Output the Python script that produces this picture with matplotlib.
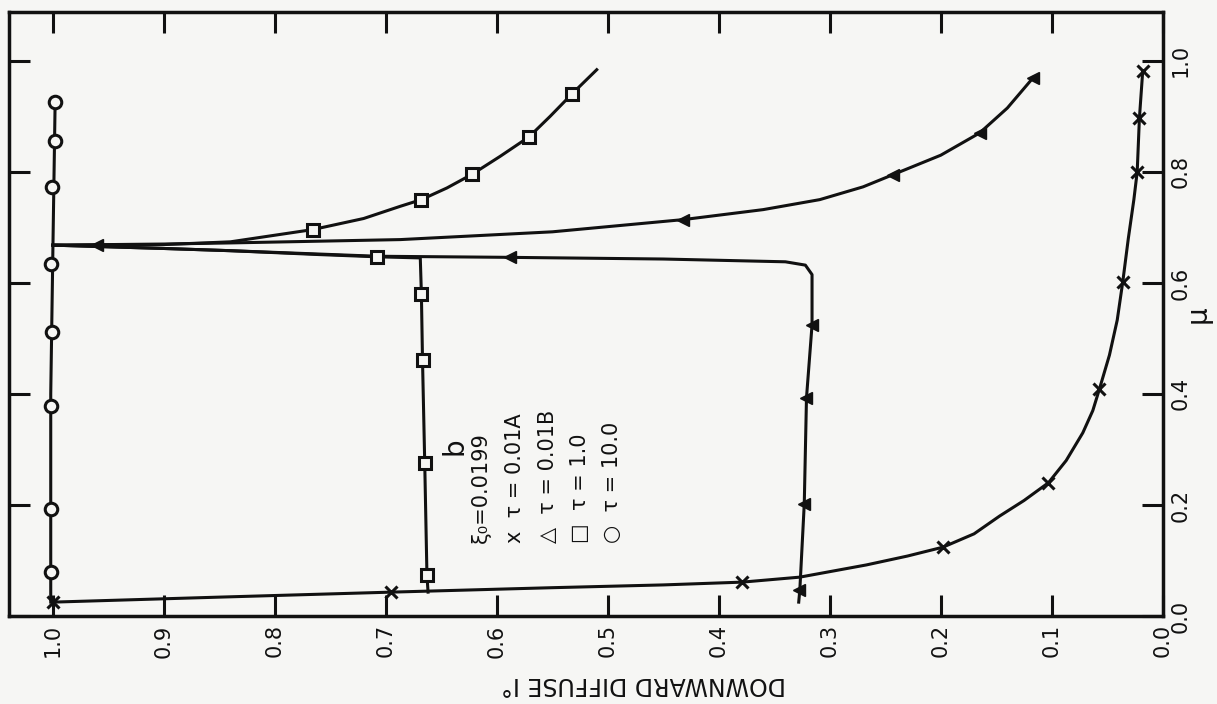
import numpy as np
import matplotlib
matplotlib.use('Agg')
import matplotlib.pyplot as plt

# values read off the (rotated) scanned figure: I = downward diffuse, mu
# x marks, tau = 0.01 A
x_line_I = [1.0, 0.85, 0.695, 0.55, 0.45, 0.379, 0.327, 0.267, 0.230, 0.198, 0.170, 0.147, 0.125,
            0.103, 0.087, 0.072, 0.063, 0.057, 0.048, 0.041, 0.036, 0.031, 0.026, 0.023, 0.021, 0.018]
x_line_mu = [0.025, 0.034, 0.043, 0.051, 0.056, 0.061, 0.070, 0.092, 0.108, 0.124, 0.148, 0.180, 0.208,
             0.240, 0.28, 0.33, 0.37, 0.409, 0.47, 0.533, 0.602, 0.68, 0.75, 0.80, 0.897, 0.982]
x_pts_I = [1.0, 0.695, 0.379, 0.198, 0.103, 0.057, 0.036, 0.023, 0.021, 0.018]
x_pts_mu = [0.025, 0.043, 0.061, 0.124, 0.240, 0.409, 0.602, 0.80, 0.897, 0.982]

# triangles, tau = 0.01 B (two branches)
tri_up_I = [1.0, 0.90, 0.84, 0.687, 0.55, 0.432, 0.36, 0.309, 0.27, 0.243, 0.20, 0.165, 0.14, 0.117]
tri_up_mu = [0.668, 0.670, 0.672, 0.678, 0.692, 0.714, 0.732, 0.750, 0.773, 0.795, 0.830, 0.870, 0.915, 0.969]
tri_low_I = [1.0, 0.90, 0.84, 0.708, 0.588, 0.45, 0.34, 0.322, 0.316, 0.316, 0.321, 0.323, 0.327, 0.328]
tri_low_mu = [0.668, 0.662, 0.658, 0.648, 0.646, 0.643, 0.638, 0.632, 0.615, 0.524, 0.393, 0.202, 0.047, 0.025]
tri_pts_I = [0.96, 0.432, 0.243, 0.165, 0.117, 0.588, 0.316, 0.321, 0.323, 0.328]
tri_pts_mu = [0.668, 0.714, 0.795, 0.870, 0.969, 0.646, 0.524, 0.393, 0.202, 0.047]

# squares, tau = 1.0 (two branches)
sq_up_I = [1.0, 0.90, 0.84, 0.766, 0.72, 0.687, 0.668, 0.645, 0.622, 0.597, 0.571, 0.552, 0.532, 0.51]
sq_up_mu = [0.668, 0.669, 0.674, 0.696, 0.716, 0.738, 0.750, 0.771, 0.796, 0.828, 0.863, 0.900, 0.941, 0.984]
sq_low_I = [1.0, 0.90, 0.84, 0.76, 0.708, 0.669, 0.668, 0.667, 0.665, 0.663, 0.662]
sq_low_mu = [0.668, 0.662, 0.658, 0.651, 0.647, 0.645, 0.580, 0.461, 0.276, 0.074, 0.043]
sq_pts_I = [0.766, 0.668, 0.622, 0.571, 0.532, 0.708, 0.668, 0.667, 0.665, 0.663]
sq_pts_mu = [0.696, 0.750, 0.796, 0.863, 0.941, 0.647, 0.580, 0.461, 0.276, 0.074]

# circles, tau = 10.0
circ_line_I = [1.002, 1.002, 1.0, 0.998]
circ_line_mu = [0.025, 0.40, 0.668, 0.93]
circ_pts_I = [0.998, 0.998, 1.001, 1.002, 1.001, 1.002, 1.002, 1.002]
circ_pts_mu = [0.926, 0.856, 0.773, 0.634, 0.512, 0.378, 0.193, 0.079]

I_ticks = [1.0, 0.9, 0.8, 0.7, 0.6, 0.5, 0.4, 0.3, 0.2, 0.1, 0.0]
mu_ticks = [0.0, 0.2, 0.4, 0.6, 0.8, 1.0]

legend_lines = ['ξ₀=0.0199', 'x  τ = 0.01A', '△  τ = 0.01B', '□  τ = 1.0', '○  τ = 10.0']

bg = '#f6f6f4'
ink = '#111111'

fig = plt.figure(figsize=(12.17, 7.04), dpi=100, facecolor=bg)
ax = fig.add_axes([0.0074, 0.125, 0.948, 0.858], facecolor=bg)

lw = 2.2
ax.plot(x_line_I, x_line_mu, color=ink, lw=lw)
ax.plot(tri_up_I, tri_up_mu, color=ink, lw=lw)
ax.plot(tri_low_I, tri_low_mu, color=ink, lw=lw)
ax.plot(sq_up_I, sq_up_mu, color=ink, lw=lw)
ax.plot(sq_low_I, sq_low_mu, color=ink, lw=lw)
ax.plot(circ_line_I, circ_line_mu, color=ink, lw=lw)

# markers
ax.plot(x_pts_I, x_pts_mu, 'x', color=ink, ms=8, mew=2.2)
ax.plot(tri_pts_I, tri_pts_mu, '<', color=ink, ms=8)
ax.plot(sq_pts_I, sq_pts_mu, 's', mfc=bg, mec=ink, ms=8, mew=2.2)
ax.plot(circ_pts_I, circ_pts_mu, 'o', mfc=bg, mec=ink, ms=9, mew=2.2)

ax.set_xlim(1.0396, 0.0)
ax.set_ylim(0.0, 1.088)

# ticks inward on every side, labels only bottom and right
ax.set_xticks(I_ticks)
ax.set_xticklabels([f'{v:.1f}' for v in I_ticks], rotation=90)
ax.set_yticks(mu_ticks)
ax.set_yticklabels([f'{v:.1f}' for v in mu_ticks], rotation=90, va='center')
ax.tick_params(axis='both', direction='in', length=15, width=2.2, colors=ink,
               labelsize=15, top=True, right=True, left=True, bottom=True,
               labelleft=False, labelright=True, pad=6)
for s in ax.spines.values():
    s.set_linewidth(2.5)
    s.set_color(ink)

ax.set_xlabel('DOWNWARD DIFFUSE I°', rotation=180, fontsize=17, color=ink,
              ha='center', va='center')
ax.xaxis.set_label_coords(0.55, -0.113)
ax.yaxis.set_label_position('right')
ax.set_ylabel('μ', rotation=90, fontsize=20, color=ink, ha='center', va='center')
ax.yaxis.set_label_coords(1.030, 0.5)

# legend block written inside the plot, rotated like the rest of the page
ax.text(0.638, 0.305, 'b', rotation=90, fontsize=20, ha='center', va='center', color=ink)
leg_x = [0.614, 0.584, 0.554, 0.525, 0.496]
for xx, txt in zip(leg_x, legend_lines):
    ax.text(xx, 0.132, txt, rotation=90, fontsize=15, ha='center', va='bottom', color=ink)

fig.savefig('out.png', dpi=100, facecolor=bg)
